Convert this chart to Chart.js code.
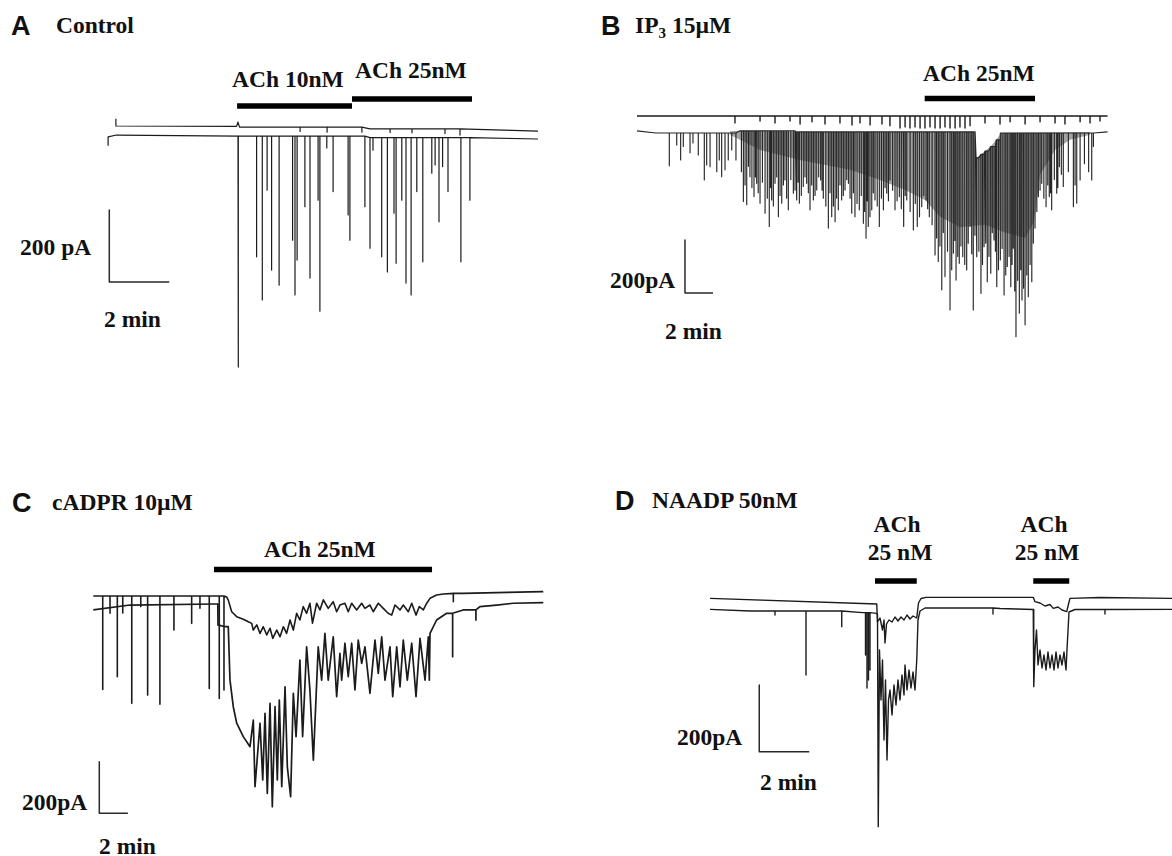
<!DOCTYPE html>
<html>
<head>
<meta charset="utf-8">
<script src="https://cdn.jsdelivr.net/npm/chart.js@4.4.1/dist/chart.umd.min.js"></script>
<style>
    body { margin: 0; background: #fff; width: 1172px; height: 856px; position: relative; overflow: hidden;
           font-family: "Liberation Serif", "Times New Roman", serif; }
    canvas { position: absolute; }
    .t { position: absolute; white-space: nowrap; font-weight: bold; font-size: 23.5px; line-height: 1;
         transform: translateY(-50%); color: #111; }
    .lt { font-family: "Liberation Sans", Arial, sans-serif; font-size: 27px; }
    .c { transform: translate(-50%, -50%); }
    .sub { font-size: 15px; position: relative; top: 5px; }
</style>
</head>
<body>
<div class="t lt" style="left:11px;top:26px">A</div>
<div class="t" style="left:56px;top:26px">Control</div>
<div class="t" style="left:232px;top:80px">ACh 10nM</div>
<div class="t" style="left:355px;top:71px">ACh 25nM</div>
<div class="t" style="left:20px;top:248px">200 pA</div>
<div class="t" style="left:104px;top:320px">2 min</div>

<div class="t lt" style="left:601px;top:26px">B</div>
<div class="t" style="left:635px;top:26px">IP<span class="sub">3</span> 15µM</div>
<div class="t" style="left:923px;top:74px">ACh 25nM</div>
<div class="t" style="left:610px;top:281px">200pA</div>
<div class="t" style="left:665px;top:332px">2 min</div>

<div class="t lt" style="left:12px;top:503px">C</div>
<div class="t" style="left:52px;top:503px">cADPR 10µM</div>
<div class="t" style="left:264px;top:550px">ACh 25nM</div>
<div class="t" style="left:22px;top:803px">200pA</div>
<div class="t" style="left:99px;top:847px">2 min</div>

<div class="t lt" style="left:615px;top:501px">D</div>
<div class="t" style="left:652px;top:501px">NAADP 50nM</div>
<div class="t c" style="left:897px;top:525px">ACh</div>
<div class="t c" style="left:900px;top:553px">25 nM</div>
<div class="t c" style="left:1044px;top:525px">ACh</div>
<div class="t c" style="left:1047px;top:553px">25 nM</div>
<div class="t" style="left:677px;top:738px">200pA</div>
<div class="t" style="left:760px;top:783px">2 min</div>

<canvas id="chartA"></canvas>
<canvas id="chartB"></canvas>
<canvas id="chartC"></canvas>
<canvas id="chartD"></canvas>

<script>
// time in min, current in pA (inward = negative)
// scale bars
const scaleMin = 2;
const scalePA = 200;

// ---- A: control ----
const aUpT = [0.53, 0.53, 4.55, 4.6, 4.65, 9.0, 14.6];
const aUpY = [44, 25, 24, 36, 22, 17, 11];
const aUpSpikeT = [6.67, 7.57, 8.73, 9.67, 10.4, 11.5, 12.0];
const aUpSpikeY = [10, 8, 8, 7, 6, 4, 0];
const aLowT = [0.27, 0.27, 0.55, 4.6, 9.0, 14.6];
const aLowY = [-30, -5, 0, -3, -7, -11];
const aSpikeT = [4.61, 5.22, 5.41, 5.57, 5.72, 5.97, 6.42, 6.5, 6.57, 6.83, 7.0, 7.27, 7.33, 7.56, 7.77, 8.27, 8.33, 8.83, 9.0, 9.1,
                 9.39, 9.58, 9.8, 9.87, 10.06, 10.2, 10.37, 10.56, 10.76, 11.06, 11.17, 11.3, 11.42, 11.6, 12.03, 12.33];
const aSpikeY = [-644, -338, -458, -153, -375, -417, -292, -444, -347, -199, -397, -181, -489, -36, -157, -222, -292, -199, -314, -42,
                 -338, -380, -217, -356, -181, -411, -444, -157, -352, -106, -83, -241, -88, -157, -352, -181];
const aAchOn = [4.57, 8.4];
const aAchOff = [8.4, 12.4];

// ---- B: IP3 15uM ----
const bUpT = [2.64, 36.25];
const bUpY = [60, 60];
const bUpSpikeT = [9.64, 11.43, 12.5, 13.57, 14.29, 15.14, 16.07, 17.14, 18.0, 18.57, 19.29, 20.14, 20.71, 21.43, 21.79, 22.14, 22.5, 22.86, 23.21,
                   23.57, 23.93, 24.29, 24.64, 25.0, 25.36, 25.71, 26.07, 26.43, 27.5, 28.57, 29.29, 30.36, 31.43, 32.5, 33.21, 34.29, 35.0, 35.71];
const bUpSpikeY = [34, 41, 34, 41, 30, 38, 30, 34, 26, 34, 26, 30, 23, 15, 19, 15, 19, 15, 15,
                   19, 15, 15, 19, 15, 15, 19, 15, 23, 34, 30, 38, 30, 38, 34, 30, 38, 34, 41];
const bLowT = [2.64, 4.0, 7.1, 10.0, 14.0, 26.79, 26.86, 27.2, 27.5, 27.9, 28.3, 28.64, 36.25];
const bLowY = [4, -4, -4, 4, 0, 0, -98, -85, -72, -55, -30, -4, 0];
const bSpikeT = [4.95, 5.48, 5.76, 5.95, 6.43, 6.64, 7.02, 7.45, 7.62, 7.86, 8.34, 8.52, 8.69, 8.93, 9.16, 9.41, 9.71, 10.24, 10.48, 10.71,
                 11.0, 11.19, 11.43, 11.79, 12.09, 12.26, 12.5, 12.74, 12.98, 13.21, 13.45, 13.81, 14.05, 14.24, 14.52, 14.76, 15.0, 15.24, 15.48, 15.76,
                 15.95, 16.31, 16.55, 16.79, 17.02, 17.26, 17.5, 17.74, 17.98, 18.21, 18.52, 18.81, 19.0, 19.16, 19.41, 19.64, 19.95, 20.24, 20.48, 20.71,
                 21.07, 21.38, 21.66, 21.71, 21.91, 22.38, 22.66, 22.98, 23.29, 23.52, 23.93, 24.16, 24.41, 24.64, 25.0, 25.24, 25.43, 25.66, 25.91, 26.19,
                 26.43, 26.66, 26.91, 27.21, 27.43, 27.66, 27.91, 28.14, 28.34, 28.57, 28.86, 29.09, 29.34, 29.52, 29.71, 29.95, 30.14, 30.36, 30.59, 30.84,
                 31.07, 31.31, 31.55, 31.86, 32.09, 32.26, 32.62, 32.81, 33.09, 33.81, 34.05, 34.29, 35.12, 35.24];
const bSpikeY = [-128, -49, -106, -55, -79, -42, -87, -181, -125, -131, -150, -106, -169, -143, -106, -68, -106, -263, -275, -169,
                 -244, -194, -269, -307, -357, -257, -194, -320, -269, -181, -294, -231, -257, -269, -206, -194, -294, -257, -219, -181,
                 -250, -363, -320, -339, -294, -257, -219, -194, -307, -320, -294, -345, -401, -357, -294, -257, -357, -294, -231, -181,
                 -294, -244, -320, -357, -257, -370, -357, -282, -257, -320, -464, -489, -596, -546, -672, -458, -559, -496, -471, -521,
                 -357, -672, -471, -609, -433, -565, -533, -408, -584, -483, -615, -508, -584, -439, -773, -684, -634, -728, -622, -565,
                 -363, -244, -194, -282, -244, -294, -231, -131, -206, -282, -269, -181, -181, -55];
// smaller events packed between the ones above
const bSpike2T = [10.1, 10.36, 10.6, 10.85, 11.1, 11.3, 11.6, 11.95, 12.18, 12.38, 12.62, 12.86, 13.1, 13.33, 13.63, 13.93, 14.15, 14.38, 14.64, 14.88,
                  15.12, 15.36, 15.62, 15.86, 16.13, 16.43, 16.67, 16.9, 17.14, 17.38, 17.62, 17.86, 18.1, 18.36, 18.66, 18.9, 19.08, 19.28, 19.52, 19.8,
                  20.1, 20.36, 20.6, 20.9, 21.22, 21.52, 21.8, 22.15, 22.52, 22.82, 23.13, 23.4, 23.72, 24.04, 24.28, 24.52, 24.82, 25.12, 25.34, 25.55,
                  25.78, 26.05, 26.3, 26.55, 26.78, 27.06, 27.32, 27.55, 27.78, 28.02, 28.24, 28.46, 28.72, 28.98, 29.22, 29.43, 29.62, 29.83, 30.05, 30.25,
                  30.48, 30.72, 30.95, 31.2, 31.43, 31.7, 31.98, 32.18, 32.45, 32.7, 32.95, 33.45, 33.93, 34.6, 34.9];
const bSpike2Y = [-150, -200, -130, -210, -170, -230, -190, -250, -210, -280, -170, -240, -200, -250, -180, -220, -190, -240, -170, -230,
                  -200, -240, -170, -220, -280, -230, -280, -250, -200, -240, -180, -250, -230, -270, -240, -300, -260, -320, -230, -280,
                  -250, -210, -260, -220, -260, -290, -240, -300, -270, -320, -240, -290, -350, -400, -430, -380, -450, -520, -410, -470,
                  -430, -500, -420, -460, -390, -450, -500, -420, -470, -380, -450, -520, -440, -540, -470, -500, -600, -560, -520, -590,
                  -540, -500, -420, -300, -220, -250, -200, -230, -180, -210, -160, -150, -200, -120, -150];
// lower edge of the dense, overlapping events
const bMassT = [9.29, 11.43, 14.29, 17.86, 20.0, 21.79, 23.21, 24.29, 25.71, 27.5, 28.93, 30.36, 31.0, 31.43, 32.5, 33.57, 35.0];
const bMassY = [-11, -68, -106, -143, -181, -219, -257, -320, -360, -350, -380, -400, -340, -162, -68, -30, -11];
const bAchOn = [23.19];
const bAchOff = [31.07];

// ---- C: cADPR 10uM ----
const cUpT = [0.58, 9.91, 10.02, 10.26, 10.61, 11.07, 11.42, 11.66, 11.77, 12.01, 12.24, 12.47, 12.71, 12.94, 13.13, 13.41, 13.64, 13.87, 14.1, 14.34,
              14.57, 14.8, 15.03, 15.26, 15.5, 15.73, 15.91, 16.2, 16.43, 16.67, 17.01, 17.36, 17.6, 17.83, 18.18, 18.41, 18.65, 19.0, 19.35, 19.58,
              19.93, 20.16, 20.51, 20.86, 21.2, 21.45, 21.68, 22.03, 22.26, 22.61, 22.85, 23.15, 23.38, 23.66, 23.9, 24.13, 24.59, 25.06, 25.76, 26.45,
              28.79, 31.12, 32.05];
const cUpY = [31, 27, 15, -30, -49, -59, -69, -75, -101, -81, -114, -88, -120, -94, -133, -101, -127, -88, -114, -62,
              -101, -36, -62, -10, -36, 3, -74, 3, -23, 16, -17, 9, -30, -4, 3, -30, 3, -23, 3, -17,
              -4, -30, 3, -17, -36, -43, -4, -23, -4, -30, 3, -43, -10, -23, 3, 22, 35, 39, 41, 41,
              44, 47, 48];
const cUpSpikeT = [1.24, 1.75, 2.26, 2.64, 3.27, 3.9, 4.38, 5.24, 6.22, 7.46, 8.04, 8.69, 9.39, 9.72, 25.76];
const cUpSpikeY = [-331, -36, -282, -35, -385, -10, -353, -388, -101, -75, -16, -327, -366, -333, 9];
const cLowT = [0.58, 3.15, 9.09, 9.29, 9.3, 9.79, 10.02, 10.14, 10.37, 10.61, 11.07, 11.54, 11.77, 11.89, 12.24, 12.43, 12.59, 12.75, 12.94, 13.1,
               13.29, 13.45, 13.59, 13.76, 13.99, 14.15, 14.38, 14.57, 14.76, 15.03, 15.22, 15.5, 15.73, 15.97, 16.31, 16.55, 16.78, 17.01, 17.36, 17.6,
               17.83, 17.95, 18.18, 18.41, 18.65, 18.88, 19.11, 19.35, 19.58, 19.93, 20.28, 20.51, 20.75, 20.98, 21.33, 21.52, 21.8, 22.03, 22.26, 22.54,
               22.85, 23.15, 23.43, 23.78, 24.01, 24.08, 24.13, 24.59, 25.29, 26.45, 27.62, 28.79, 29.95, 32.05];
const cLowY = [-23, -4, 0, 0, -81, -88, -88, -295, -398, -462, -514, -553, -450, -708, -462, -682, -424, -734, -385, -786,
               -398, -682, -372, -708, -321, -631, -747, -346, -514, -217, -514, -166, -333, -605, -166, -295, -114, -295, -127, -359,
               -191, -295, -152, -282, -152, -333, -140, -230, -166, -346, -140, -269, -127, -295, -166, -359, -166, -321, -140, -295,
               -152, -359, -133, -295, -127, -295, -114, -62, -36, -23, -10, -4, 3, 5];
const cLowSpikeT = [25.71, 27.34];
const cLowSpikeY = [-204, -62];
const cAchOn = [9.02];
const cAchOff = [24.27];

// ---- D: NAADP 50nM ----
const dUpT = [0.4, 7.07, 7.1, 7.2, 7.3, 7.36, 7.4, 7.46, 7.56, 7.68, 7.8, 7.92, 8.04, 8.16, 8.28, 8.4, 8.52, 8.67, 8.74, 8.84,
              9.04, 13.33, 13.4, 13.6, 13.8, 14.0, 14.13, 14.32, 14.48, 14.67, 14.74, 14.8, 16.0, 18.88];
const dUpY = [35, 18, -36, -24, -60, -30, -99, -42, -30, -36, -21, -33, -21, -30, -15, -27, -18, -24, 21, 34.5,
              38, 38, 25, 21, 12, 16.5, 5, 9, 0, -5, 18, 35, 37.5, 35];
const dLowT = [0.4, 2.0, 6.5, 7.07, 7.1, 7.13, 7.18, 7.24, 7.3, 7.36, 7.42, 7.48, 7.54, 7.6, 7.68, 7.76, 7.84, 7.92, 8.0, 8.08,
               8.16, 8.2, 8.28, 8.36, 8.44, 8.52, 8.6, 8.67, 8.72, 8.8, 9.0, 12.0, 13.33, 13.35, 13.4, 13.46, 13.52, 13.6, 13.68, 13.76,
               13.84, 13.92, 14.0, 14.08, 14.16, 14.24, 14.32, 14.4, 14.48, 14.56, 14.64, 14.7, 14.76, 15.0, 18.88];
const dLowY = [2, -3, -8, -10, -15, -650, -120, -270, -150, -390, -210, -450, -270, -240, -315, -225, -285, -210, -270, -195,
               -255, -165, -240, -180, -234, -186, -240, -150, -30, -3, 6, 4.5, 1.5, -230, -120, -60, -165, -120, -174, -135,
               -180, -126, -174, -135, -180, -126, -174, -135, -165, -126, -180, -90, -6, 1.5, 2];
const dSpikeT = [3.0, 4.24, 5.67, 6.62, 6.68, 6.74, 6.8, 11.72, 16.2];
const dSpikeY = [-15, -195, -50, -135, -234, -210, -180, -12, -12];
const dAchOn = [7.0, 13.33];
const dAchOff = [8.67, 14.77];

// layout: page box of each panel, axis ranges, where bars sit
const panels = {
    A: {left: 100, top: 90, w: 450, h: 290, xMax: 15, yMin: -680, yMax: 125, scaleAt: [0.31, -208], achLevel: [80.6, 100]},
    B: {left: 600, top: 85, w: 520, h: 260, xMax: 37.14, yMin: -804, yMax: 177, scaleAt: [6.07, -408], achLevel: [126]},
    C: {left: 85, top: 560, w: 470, h: 260, xMax: 32.87, yMin: -837, yMax: 170.5, scaleAt: [1.0, -611], achLevel: [134]},
    D: {left: 700, top: 570, w: 472, h: 265, xMax: 18.88, yMin: -675, yMax: 120, scaleAt: [2.37, -225], achLevel: [87, 87]}
};

const INK = '#1b1b1b';

// merge slow trace knots with fast events: each event leaves from and returns to the latest knot level
const trace = (knotT, knotY, spikeT, spikeY) => {
    const events = knotT.map((t, i) => ({t: t, y: knotY[i], knot: true, i: i}))
        .concat(spikeT.map((t, i) => ({t: t, y: spikeY[i], knot: false, i: i})));
    events.sort((a, b) => (a.t - b.t) || (a.knot === b.knot ? a.i - b.i : (a.knot ? -1 : 1)));
    const pts = [];
    let level = knotY[0];
    events.forEach(e => {
        if (e.knot) {
            level = e.y;
            pts.push({x: e.t, y: e.y});
        } else {
            pts.push({x: e.t, y: level}, {x: e.t, y: e.y}, {x: e.t, y: level});
        }
    });
    return pts;
};

const line = (data, width, color) => ({
    data: data,
    borderColor: color || INK,
    borderWidth: width,
    borderJoinStyle: 'round',
    pointRadius: 0,
    fill: false,
    tension: 0
});

const scaleBar = (at) => line([
    {x: at[0], y: at[1]},
    {x: at[0], y: at[1] - scalePA},
    {x: at[0] + scaleMin, y: at[1] - scalePA}
], 1.5, '#2a2a2a');

const achBars = (on, off, levels) => on.map((t, i) => Object.assign(
    line([{x: t, y: levels[i]}, {x: off[i], y: levels[i]}], 5.5, '#000'),
    {borderCapStyle: 'butt'}
));

const draw = (id, box, datasets) => {
    const canvas = document.getElementById(id);
    canvas.width = box.w;
    canvas.height = box.h;
    canvas.style.left = box.left + 'px';
    canvas.style.top = box.top + 'px';
    new Chart(canvas, {
        type: 'line',
        data: {datasets: datasets},
        options: {
            responsive: false,
            animation: false,
            events: [],
            layout: {padding: 0},
            plugins: {legend: {display: false}, tooltip: {enabled: false}},
            scales: {
                x: {type: 'linear', display: false, min: 0, max: box.xMax},
                y: {type: 'linear', display: false, min: box.yMin, max: box.yMax}
            }
        }
    });
};

draw('chartA', panels.A, [
    line(trace(aLowT, aLowY, aSpikeT, aSpikeY), 1.2),
    line(trace(aUpT, aUpY, aUpSpikeT, aUpSpikeY), 1.2),
    scaleBar(panels.A.scaleAt)
].concat(achBars(aAchOn, aAchOff, panels.A.achLevel)));

const bMassTop = line(bLowT.map((t, i) => ({x: t, y: bLowY[i]})), 0);
const bMassBottom = Object.assign(line(bMassT.map((t, i) => ({x: t, y: bMassY[i]})), 0), {
    fill: '-1',
    backgroundColor: 'rgba(35,35,35,0.42)'
});
draw('chartB', panels.B, [
    line(trace(bLowT, bLowY, bSpikeT.concat(bSpike2T), bSpikeY.concat(bSpike2Y)), 1.15, '#262626'),
    line(trace(bUpT, bUpY, bUpSpikeT, bUpSpikeY), 1.4),
    scaleBar(panels.B.scaleAt)
].concat(achBars(bAchOn, bAchOff, panels.B.achLevel), [bMassTop, bMassBottom]));

draw('chartC', panels.C, [
    line(trace(cLowT, cLowY, cLowSpikeT, cLowSpikeY), 1.7),
    line(trace(cUpT, cUpY, cUpSpikeT, cUpSpikeY), 1.6),
    scaleBar(panels.C.scaleAt)
].concat(achBars(cAchOn, cAchOff, panels.C.achLevel)));

draw('chartD', panels.D, [
    line(trace(dLowT, dLowY, dSpikeT, dSpikeY), 1.4),
    line(dUpT.map((t, i) => ({x: t, y: dUpY[i]})), 1.4),
    scaleBar(panels.D.scaleAt)
].concat(achBars(dAchOn, dAchOff, panels.D.achLevel)));
</script>
</body>
</html>
